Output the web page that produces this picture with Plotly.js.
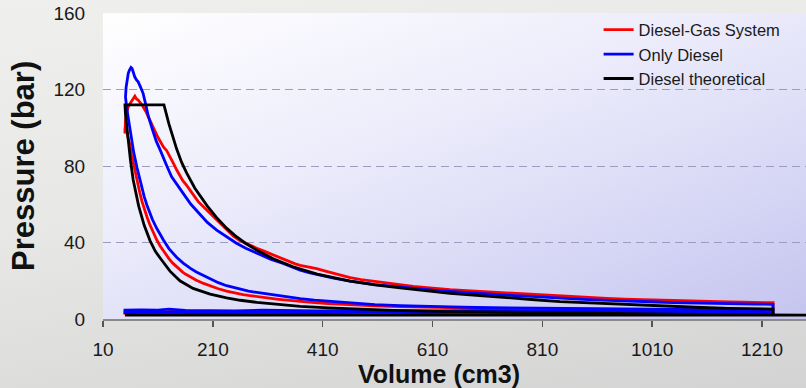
<!DOCTYPE html>
<html>
<head>
<meta charset="utf-8">
<script src="https://cdn.plot.ly/plotly-3.0.1.min.js"></script>
<style>
  html, body { margin:0; padding:0; width:806px; height:388px; overflow:hidden; }
  body { background: linear-gradient(170deg, #efefed 0%, #e7e7e5 45%, #dcdcdb 75%, #d3d3d3 100%); position:relative; }
  #plotbg { position:absolute; left:103px; top:13px; width:703px; height:306px;
            background: linear-gradient(160deg, #ffffff 0%, #ececfb 40%, #d9d9f6 70%, #c4c4ef 100%); }
  #chart { position:absolute; left:0; top:0; width:806px; height:388px; }
</style>
</head>
<body>
<div id="plotbg"></div>
<div id="chart"></div>
<script>
// ---- data ----
const seriesNames = ["Diesel-Gas System", "Only Diesel", "Diesel theoretical"];

const redV = [1230,1190,1150,1100,1048,990,928,885,842,790,733,690,642,600,551,505,478,450,420,395,369,350,330,310,290,275,265,247,235,220,205,193,180,170,160,155,144,137,130,120,114,108,100,95,90,85,81,77,72,66,62,59,55,52,50,
  50,51,53,56,60,64,68,71,74,78,82,88,95,100,105,110,115,120,126,132,138,144,150,155,162,168,175,183,190,199,208,217,226,235,247,259,270,280,290,302,315,325,338,350,360,369,385,399,415,430,445,460,480,505,530,551,575,600,620,642,665,690,710,733,760,790,815,842,865,885,905,928,960,990,1020,1048,1075,1100,1125,1150,1175,1200,1215,1230,
  1230,1230,1200,1100,1000,900,800,700,600,500,400,300,250,200,150,120,80,50,
  50,100,200,300,400,500,600,700,800,900,1000,1100,1230,1230];
const redP = [4.4,4.5,4.3,4.7,4.6,4.9,4.8,5.1,5.0,5.3,5.5,5.6,6.0,6.1,6.5,6.9,7.2,7.6,8.1,8.6,9.1,9.7,10.3,10.9,11.6,12.3,12.8,13.8,14.6,15.8,17.2,18.6,20.3,21.8,23.5,24.5,27.2,29.2,31.6,35.4,38.2,41.3,46,49.5,53.5,57.5,61.5,66,72.5,80,86,91,96,99,100,
  97,104,108,111,113,115,116.5,115,114.5,113,111.5,108.5,104.5,101,98,95,92.5,90,88,85,81.5,78,75,72.5,70,67.5,64.5,61.5,59.5,57,54,51.5,49,46.5,43.5,41,39.5,38.3,37,35.6,34,32.7,31.3,30,28.8,28,27.2,26.3,25,23.8,22.6,21.6,20.6,19.6,18.7,17.9,17.1,16.4,15.8,15.3,14.9,14.5,14.1,13.8,13.5,12.8,12.4,11.9,11.6,11.3,11.0,10.8,10.4,10.1,9.9,9.6,9.4,9.2,9.1,8.9,8.8,8.6,8.6,8.5,
  6.5,4.0,3.9,3.7,4.0,3.6,3.9,3.5,3.8,3.6,4.0,3.5,3.9,3.6,4.3,3.7,3.9,3.8,
  2.9,3.1,2.8,3.0,2.8,3.1,2.8,3.0,2.9,3.1,2.8,3.0,2.9,4.4];

const blueV = [1230,1190,1150,1100,1048,990,928,885,842,790,733,690,642,600,551,505,478,450,420,395,369,350,330,310,290,275,265,247,235,220,205,193,180,170,160,156,144,137,130,120,114,108,100,95,90,85,80,76,72,66,62,59,57,55,53,51,
  52,54,56,58,61,63,65,68,71,74,78,83,88,92.5,100,107,114,120,127,135,144,156,170,187,200,217,235,253,270,290,315,338,350,369,385,400,430,460,480,505,530,551,575,600,620,642,665,690,710,733,760,790,815,842,865,885,905,928,960,990,1020,1048,1075,1100,1125,1150,1175,1200,1215,1230,
  1230,1230,1200,1100,1000,900,800,700,600,500,400,300,250,200,160,130,110,80,50,
  50,100,200,300,400,500,600,700,800,900,1000,1100,1230,1230];
const blueP = [4.6,4.7,4.6,4.9,4.9,5.1,5.3,5.3,5.4,5.6,5.8,6.0,6.3,6.5,7.0,7.5,8.0,8.5,9.2,9.9,10.7,11.4,12.1,13.0,13.9,14.6,15.2,16.3,17.4,19.0,21.0,22.6,24.6,26.3,28.3,29.2,32.3,34.5,36.8,41.3,44,47.3,52,55.5,59.5,64,69.5,74,79,87,93.6,99,103,107,111,116,
  121,125.5,128.5,130,131.5,131,129,126.5,125,124,121.5,118,112,106,99,93,88.4,84,79.5,74.4,70.5,65.7,60,54.5,50.5,46.5,43,39.6,37,34.3,31.3,29.1,27.6,25.5,24.3,23.3,21.4,19.8,18.9,18.0,17.3,16.7,15.9,15.3,14.8,14.4,13.9,13.4,12.9,12.6,12.2,11.8,11.5,11.1,10.7,10.3,10.0,9.7,9.4,9.1,8.9,8.6,8.4,8.3,8.1,8.0,7.9,7.8,7.8,7.7,
  6.0,4.5,4.3,4.5,4.2,4.4,4.1,4.4,4.2,4.5,4.2,4.6,4.3,4.6,4.5,5.2,4.6,4.8,4.6,
  3.4,3.6,3.3,3.5,3.3,3.6,3.4,3.6,3.3,3.5,3.4,3.6,3.5,4.6];

const blackV = [50,1320,1230,1150,1048,928,842,733,642,551,478,420,369,326,290,260,235,205,174,150,132,115,105,95.6,85,75,68,65,60,56,53,51,50,
  121,130,137,144,153,162,177,200,217,235,253,270,290,320,356,400,460,505,551,600,642,690,733,790,842,928,990,1048,1100,1150,1230,1230];
const blackP = [2.0,2.0,2.1,2.3,2.6,2.9,3.2,3.5,3.9,4.4,5.0,5.8,6.6,7.6,8.7,9.8,11,13,16,20,25,31.5,35.5,41,49,59,67.5,72.7,83,93,101,107,112,
  112,102,95,89,82,76.5,68.5,59,53,47.5,43,39.5,36,31.5,27.3,23.5,19.8,17.8,16.3,14.6,13.4,12.4,11.6,10.2,9.1,8.0,7.1,6.4,6.0,5.6,5.2,2.0];

const xTicks = [10,210,410,610,810,1010,1210];
const yTicks = [0,40,80,120,160];
const xTitle = "Volume (cm3)";
const yTitle = "Pressure (bar)";

// ---- chart ----
const traces = [
  {x: redV, y: redP, name: seriesNames[0], type:'scatter', mode:'lines',
   line:{color:'#ff0000', width:2.8}, legendrank:1},
  {x: blueV, y: blueP, name: seriesNames[1], type:'scatter', mode:'lines',
   line:{color:'#0000ff', width:2.8}, legendrank:2},
  {x: blackV, y: blackP, name: seriesNames[2], type:'scatter', mode:'lines',
   line:{color:'#000000', width:2.8}, legendrank:3}
];

const layout = {
  width:806, height:388,
  margin:{l:103, r:0, t:13, b:69},
  paper_bgcolor:'rgba(0,0,0,0)',
  plot_bgcolor:'rgba(0,0,0,0)',
  font:{family:'"Liberation Sans", Arial, sans-serif', color:'#1a1a1a'},
  showlegend:true,
  legend:{x:0.705, xanchor:'left', y:1.002, yanchor:'top', bgcolor:'rgba(0,0,0,0)',
          font:{size:16.5, color:'#1a1a1a'}, tracegroupgap:0, itemwidth:30},
  xaxis:{range:[10,1290], tickvals:xTicks, ticktext:xTicks.map(String),
         showgrid:false, zeroline:false, showline:true, linecolor:'#8a8a8a', linewidth:1.5,
         ticks:'outside', ticklen:6, tickcolor:'#555', tickwidth:1.5, ticklabelstandoff:7,
         tickfont:{size:19, color:'#1a1a1a'}, fixedrange:true},
  yaxis:{range:[0,160], tickvals:yTicks, ticktext:yTicks.map(String),
         showgrid:true, gridcolor:'#9c9cc0', griddash:'8px,5px', gridwidth:1,
         zeroline:false, showline:false,
         ticks:'outside', ticklen:13, tickcolor:'rgba(0,0,0,0)',
         tickfont:{size:19, color:'#1a1a1a'}, fixedrange:true},
  annotations:[
    {text:'<b>'+xTitle+'</b>', xref:'paper', yref:'paper', x:(439-103)/703, y:-(374-319)/306,
     xanchor:'center', yanchor:'middle', showarrow:false, font:{size:25, color:'#111'}},
    {text:'<b>'+yTitle+'</b>', xref:'paper', yref:'paper', x:(23-103)/703, y:0.5,
     xanchor:'center', yanchor:'middle', textangle:-90, showarrow:false, font:{size:31, color:'#111'}}
  ]
};

Plotly.newPlot('chart', traces, layout, {staticPlot:true, displayModeBar:false});
</script>
</body>
</html>
